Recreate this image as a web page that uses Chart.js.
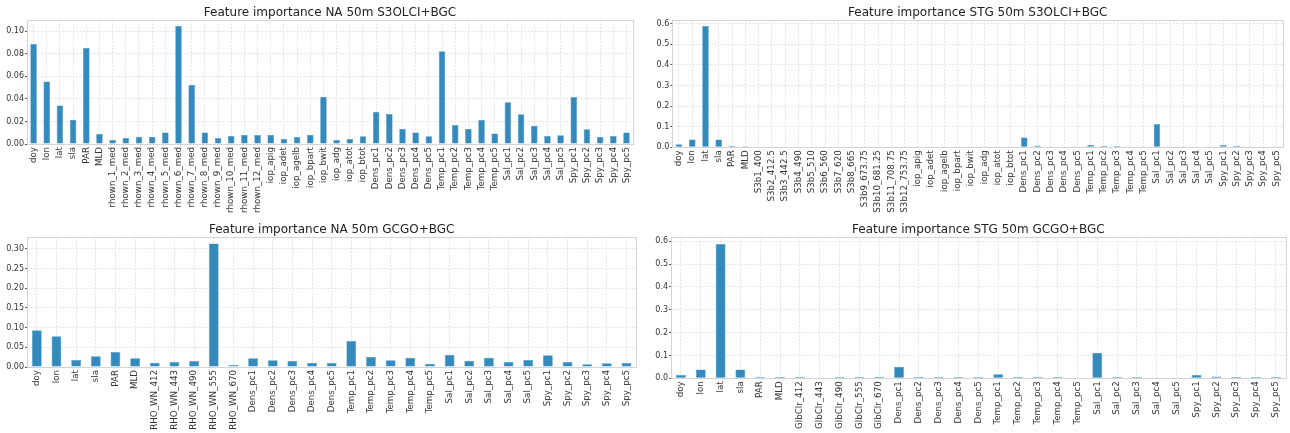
<!DOCTYPE html>
<html>
<head>
<meta charset="utf-8">
<script src="https://cdn.jsdelivr.net/npm/chart.js@4/dist/chart.umd.min.js"></script>
<style>
  html, body { margin: 0; padding: 0; background: #fff; }
  #wrap { position: relative; width: 1290px; height: 433px; overflow: hidden; }
  canvas { position: absolute; }
</style>
</head>
<body>
<div id="wrap">
  <canvas id="naOlci" width="640" height="215" style="left:0;top:0"></canvas>
  <canvas id="stgOlci" width="650" height="215" style="left:640px;top:0"></canvas>
  <canvas id="naGcgo" width="640" height="218" style="left:0;top:215px"></canvas>
  <canvas id="stgGcgo" width="650" height="218" style="left:640px;top:215px"></canvas>
</div>
<script>
// shared feature groups
const baseVars = ['doy', 'lon', 'lat', 'sla', 'PAR', 'MLD'];
const rhownVars = ['rhown_1_med', 'rhown_2_med', 'rhown_3_med', 'rhown_4_med', 'rhown_5_med', 'rhown_6_med',
                   'rhown_7_med', 'rhown_8_med', 'rhown_9_med', 'rhown_10_med', 'rhown_11_med', 'rhown_12_med'];
const s3Vars = ['S3b1_400', 'S3b2_412.5', 'S3b3_442.5', 'S3b4_490', 'S3b5_510', 'S3b6_560', 'S3b7_620',
                'S3b8_665', 'S3b9_673.75', 'S3b10_681.25', 'S3b11_708.75', 'S3b12_753.75'];
const iopVars = ['iop_apig', 'iop_adet', 'iop_agelb', 'iop_bpart', 'iop_bwit', 'iop_adg', 'iop_atot', 'iop_btot'];
const rhoVars = ['RHO_WN_412', 'RHO_WN_443', 'RHO_WN_490', 'RHO_WN_555', 'RHO_WN_670'];
const glbVars = ['GlbClr_412', 'GlbClr_443', 'GlbClr_490', 'GlbClr_555', 'GlbClr_670'];
const pcVars = ['Dens_pc1', 'Dens_pc2', 'Dens_pc3', 'Dens_pc4', 'Dens_pc5',
                'Temp_pc1', 'Temp_pc2', 'Temp_pc3', 'Temp_pc4', 'Temp_pc5',
                'Sal_pc1', 'Sal_pc2', 'Sal_pc3', 'Sal_pc4', 'Sal_pc5',
                'Spy_pc1', 'Spy_pc2', 'Spy_pc3', 'Spy_pc4', 'Spy_pc5'];

const naOlciLabels = baseVars.concat(rhownVars, iopVars, pcVars);
const stgOlciLabels = baseVars.concat(s3Vars, iopVars, pcVars);
const naGcgoLabels = baseVars.concat(rhoVars, pcVars);
const stgGcgoLabels = baseVars.concat(glbVars, pcVars);

const naOlciValues = [0.0888, 0.0555, 0.0342, 0.0215, 0.0850, 0.0088,
  0.0035, 0.0053, 0.0065, 0.0065, 0.0103, 0.1047, 0.0522, 0.0103, 0.0053, 0.0071, 0.0083, 0.0080,
  0.0080, 0.0047, 0.0062, 0.0083, 0.0419, 0.0035, 0.0044, 0.0068,
  0.0286, 0.0265, 0.0135, 0.0103, 0.0068,
  0.0823, 0.0168, 0.0135, 0.0212, 0.0094,
  0.0369, 0.0263, 0.0162, 0.0071, 0.0077,
  0.0416, 0.0130, 0.0062, 0.0071, 0.0103];
const stgOlciValues = [0.015, 0.038, 0.589, 0.038, 0.007, 0.005,
  0, 0, 0, 0, 0, 0, 0, 0, 0, 0, 0, 0,
  0.004, 0, 0.004, 0.004, 0.004, 0.004, 0, 0,
  0.048, 0.009, 0.004, 0.004, 0.004,
  0.011, 0.007, 0.006, 0.004, 0.004,
  0.113, 0.004, 0.004, 0, 0.004,
  0.011, 0.008, 0.004, 0.004, 0.004];
const naGcgoValues = [0.0935, 0.078, 0.0177, 0.027, 0.038, 0.022,
  0.011, 0.0126, 0.0152, 0.3134, 0.005,
  0.022, 0.0169, 0.0152, 0.011, 0.0101,
  0.0657, 0.0253, 0.0169, 0.0236, 0.0084,
  0.0311, 0.016, 0.0236, 0.0126, 0.0177,
  0.0295, 0.0126, 0.0067, 0.0093, 0.0101];
const stgGcgoValues = [0.0145, 0.039, 0.588, 0.039, 0.007, 0.006,
  0.007, 0.003, 0.006, 0.006, 0.007,
  0.051, 0.007, 0.006, 0.006, 0.006,
  0.0175, 0.007, 0.007, 0.006, 0.003,
  0.112, 0.006, 0.006, 0.003, 0.003,
  0.0145, 0.008, 0.006, 0.006, 0.006];

const FONT = 'DejaVu Sans';
const BAR_COLOR = '#348abd';

// light grey box round the plot area, like the matplotlib spines (drawn under the bars)
const frame = {
    id: 'frame',
    beforeDatasetsDraw(chart) {
        const a = chart.chartArea;
        const ctx = chart.ctx;
        ctx.save();
        ctx.strokeStyle = '#d4d4d4';
        ctx.lineWidth = 1;
        ctx.strokeRect(Math.round(a.left) + 0.5, Math.round(a.top) + 0.5,
                       Math.round(a.right - a.left), Math.round(a.bottom - a.top));
        ctx.restore();
    }
};

function makeChart(id, title, labels, values, opts) {
    new Chart(document.getElementById(id), {
        type: 'bar',
        data: {
            labels: labels,
            datasets: [{
                data: values,
                backgroundColor: BAR_COLOR,
                borderColor: '#4f9acb',
                borderWidth: 0.6,
                barPercentage: 0.5,
                categoryPercentage: 1.0
            }]
        },
        options: {
            responsive: false,
            animation: false,
            layout: { padding: { left: 0, right: opts.padRight, top: 0, bottom: 0 } },
            plugins: {
                legend: { display: false },
                tooltip: { enabled: false },
                title: {
                    display: true,
                    text: title,
                    fullSize: false,
                    color: '#222',
                    font: { family: FONT, size: 12, weight: 'normal', lineHeight: 1.2 },
                    padding: { top: opts.titleTop, bottom: opts.titleBottom }
                }
            },
            scales: {
                x: {
                    afterFit(scale) { scale.height = opts.xHeight; },
                    grid: { offset: false, color: '#e4e4e4', drawTicks: false },
                    border: { display: false, dash: [2, 1.5] },
                    ticks: {
                        autoSkip: false, maxRotation: 90, minRotation: 90, padding: 3,
                        color: '#333', font: { family: FONT, size: 8.7 }
                    }
                },
                y: {
                    min: 0, max: opts.yMax,
                    afterFit(scale) { scale.width = opts.yWidth; },
                    grid: { color: '#e4e4e4', tickColor: '#555', tickLength: 2 },
                    border: { display: false, dash: [2, 1.5] },
                    ticks: {
                        stepSize: opts.yStep, includeBounds: false, padding: 1,
                        color: '#333', font: { family: FONT, size: 8 },
                        callback: v => v.toFixed(opts.digits)
                    }
                }
            }
        },
        plugins: [frame]
    });
}

makeChart('naOlci', 'Feature importance NA 50m S3OLCI+BGC', naOlciLabels, naOlciValues,
    { yMax: 0.1099, yStep: 0.02, digits: 2, yWidth: 27, xHeight: 71, padRight: 2.3, titleTop: 5.3, titleBottom: 0.3 });
makeChart('stgOlci', 'Feature importance STG 50m S3OLCI+BGC', stgOlciLabels, stgOlciValues,
    { yMax: 0.618, yStep: 0.1, digits: 1, yWidth: 32.3, xHeight: 67.7, padRight: 4.3, titleTop: 5.3, titleBottom: 0.3 });
makeChart('naGcgo', 'Feature importance NA 50m GCGO+BGC', naGcgoLabels, naGcgoValues,
    { yMax: 0.329, yStep: 0.05, digits: 2, yWidth: 27, xHeight: 66, padRight: 2.3, titleTop: 7.3, titleBottom: 0.6 });
makeChart('stgGcgo', 'Feature importance STG 50m GCGO+BGC', stgGcgoLabels, stgGcgoValues,
    { yMax: 0.617, yStep: 0.1, digits: 1, yWidth: 31, xHeight: 54.7, padRight: 4.3, titleTop: 7.3, titleBottom: 0.6 });
</script>
</body>
</html>
